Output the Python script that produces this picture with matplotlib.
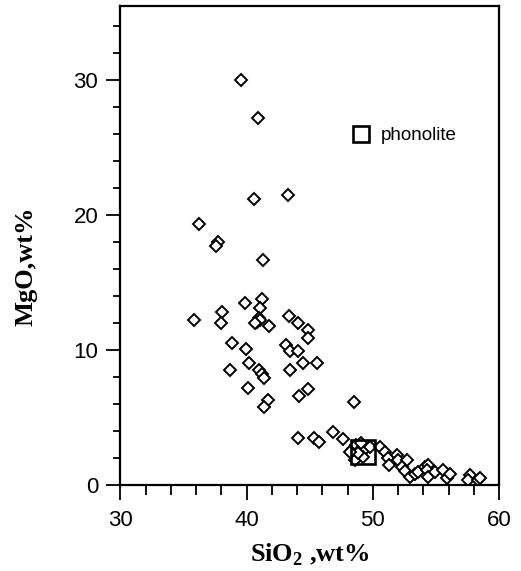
import matplotlib
matplotlib.use("Agg")
import matplotlib.pyplot as plt
from matplotlib.ticker import MultipleLocator
from matplotlib.lines import Line2D

plt.rcParams['mathtext.fontset'] = 'custom'
plt.rcParams['mathtext.rm'] = 'Liberation Serif'
plt.rcParams['mathtext.bf'] = 'Liberation Serif:bold'

# Sample compositions (diamonds)
sio2 = [39.55, 40.87, 40.58, 43.25, 36.2, 37.7, 37.6, 41.27, 41.19, 39.87,
        41.08, 38.04, 35.8, 37.94, 40.95, 40.79, 41.1, 40.7, 41.8, 43.38,
        44.04, 44.9, 44.88, 38.83, 39.94, 43.11, 43.46, 44.04, 44.44, 45.55,
        40.16, 38.68, 40.95, 41.19, 41.35, 43.46, 40.08, 44.17, 44.9, 41.66,
        41.35, 44.04, 45.36, 45.73, 48.5, 46.81, 47.66,
        48.45, 48.7, 48.6, 48.98, 49.37, 49.77, 48.27, 49.2, 48.8, 49.1, 48.2,
        50.56, 50.96, 51.22, 51.3, 51.89, 52.01, 52.68, 52.28, 52.54, 52.94,
        53.34, 53.6, 54.13, 54.39, 54.26, 54.34, 54.92, 55.58, 55.85, 56.11,
        57.69, 57.56, 58.35, 58.5]
mgo = [30.0, 27.2, 21.2, 21.5, 19.3, 18.0, 17.7, 16.7, 13.8, 13.5,
       13.1, 12.8, 12.2, 12.0, 12.4, 12.1, 12.2, 12.0, 11.8, 12.5,
       12.0, 11.5, 10.9, 10.5, 10.1, 10.4, 9.95, 9.9, 9.05, 9.05,
       9.0, 8.5, 8.55, 8.2, 7.9, 8.55, 7.15, 6.6, 7.1, 6.3,
       5.75, 3.45, 3.45, 3.15, 6.15, 3.95, 3.4,
       2.7, 2.95, 1.85, 2.6, 2.7, 2.85, 2.45, 2.1, 2.35, 3.1, 2.45,
       2.85, 2.45, 2.0, 1.5, 2.2, 1.85, 1.85, 1.35, 1.05, 0.6,
       0.8, 1.0, 1.35, 1.5, 1.1, 0.6, 1.0, 1.1, 0.5, 0.85,
       0.75, 0.35, 0.35, 0.5]

# Phonolite composition (large square)
phon_sio2 = [49.2]
phon_mgo = [2.48]

fig = plt.figure(figsize=(5.21, 5.71), dpi=100)
ax = fig.add_axes([0.231, 0.1506, 0.727, 0.8394])

ax.plot(sio2, mgo, linestyle='none', marker='D', markersize=6.6,
        markerfacecolor='white', markeredgecolor='black', markeredgewidth=1.4)
ax.plot(phon_sio2, phon_mgo, linestyle='none', marker='s', markersize=17.5,
        markerfacecolor='none', markeredgecolor='black', markeredgewidth=1.9)

ax.set_xlim(30, 60)
ax.set_ylim(0, 35.5)
ax.xaxis.set_major_locator(MultipleLocator(10))
ax.xaxis.set_minor_locator(MultipleLocator(2))
ax.yaxis.set_major_locator(MultipleLocator(10))
ax.yaxis.set_minor_locator(MultipleLocator(2))

for s in ax.spines.values():
    s.set_linewidth(1.6)

ax.tick_params(axis='both', which='both', direction='out', top=False, right=False,
               width=1.3, labelsize=16, colors='black')
ax.tick_params(axis='x', which='major', length=11, pad=7)
ax.tick_params(axis='x', which='minor', length=7)
ax.tick_params(axis='y', which='major', length=10, pad=6)
ax.tick_params(axis='y', which='minor', length=5)
for lab in ax.get_xticklabels() + ax.get_yticklabels():
    lab.set_fontfamily('Liberation Sans')

ax.set_xlabel(r'SiO$_\mathbf{2}$ ,wt%', fontfamily='Liberation Serif',
              fontweight='bold', fontsize=19)
ax.set_ylabel('MgO,wt%', fontfamily='Liberation Serif', fontweight='bold',
              fontsize=19)
ax.xaxis.set_label_coords(0.5, -0.118)
ax.yaxis.set_label_coords(-0.22, 0.457)

handle = Line2D([], [], linestyle='none', marker='s', markersize=11,
                markerfacecolor='none', markeredgecolor='black', markeredgewidth=1.9)
ax.legend([handle], ['phonolite'], loc='center left', bbox_to_anchor=(0.565, 0.729),
          frameon=False, handlelength=1.0, handletextpad=0.6,
          prop={'family': 'Liberation Sans', 'size': 13.5})

fig.savefig('out.png', dpi=100)
